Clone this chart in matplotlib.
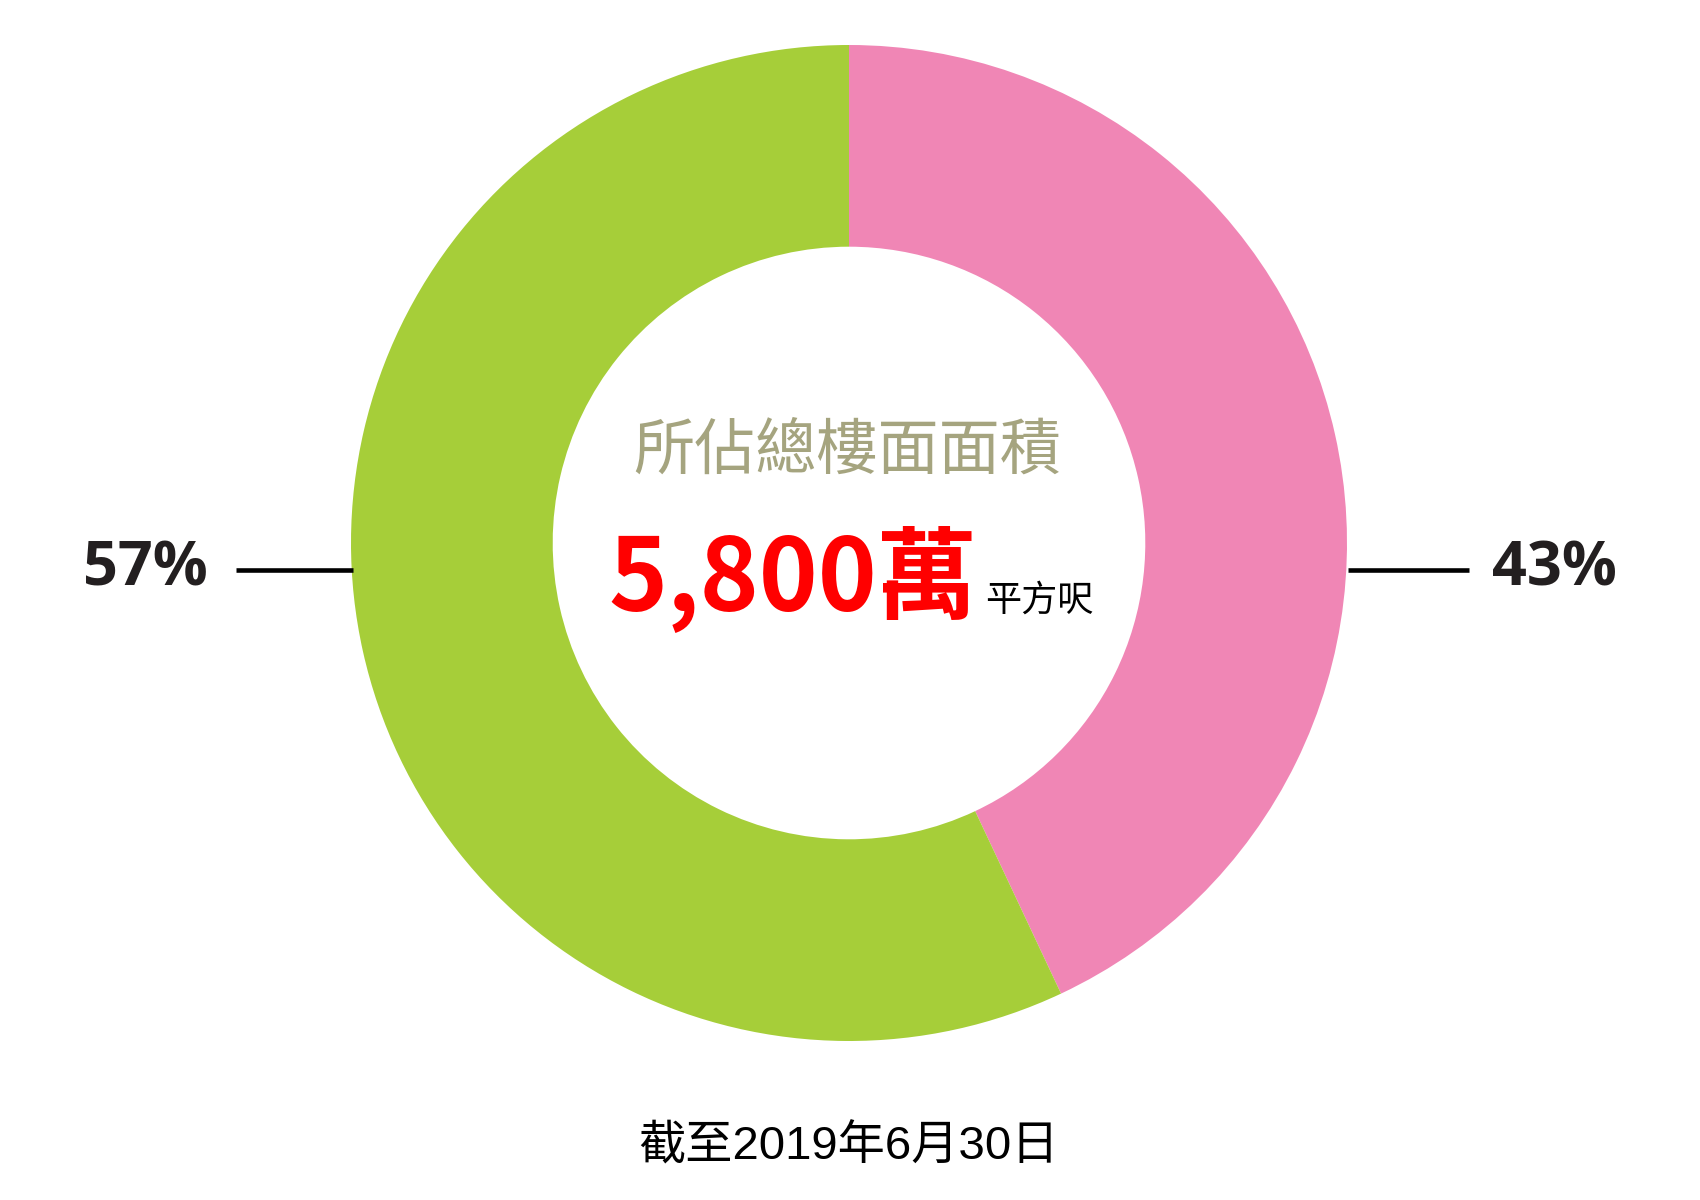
import matplotlib.pyplot as plt

# share of total floor area
labels = ['43%', '57%']
shares = [43, 57]
colors = ['#F086B5', '#A6CE39']

title = '所佔總樓面面積'
total = '5,800萬'
unit = '平方呎'
note = '截至2019年6月30日'

cjk = ['Noto Sans CJK TC', 'DejaVu Sans']

fig = plt.figure(figsize=(17, 12), dpi=100)
ax = fig.add_axes([0, 0, 1, 1])

cx, cy, r = 849, 657, 498
ax.pie(shares, colors=colors, startangle=90, counterclock=False,
       center=(cx, cy), radius=r, frame=True,
       wedgeprops=dict(width=r * 0.405, linewidth=0))
ax.set_xlim(0, 1700)
ax.set_ylim(0, 1200)
ax.axis('off')

# leader lines and percentage labels
ly = 630
ax.plot([1348, 1469], [ly, ly], color='black', lw=3.3, solid_capstyle='butt')
ax.plot([236, cx - r + 2], [ly, ly], color='black', lw=3.3, solid_capstyle='butt')
ax.text(1492, ly, labels[0], ha='left', va='center', fontsize=44,
        fontweight='bold', family=['Open Sans', 'DejaVu Sans'], color='#231F20')
ax.text(208, ly, labels[1], ha='right', va='center', fontsize=44,
        fontweight='bold', family=['Open Sans', 'DejaVu Sans'], color='#231F20')

# centre text
ax.text(847, 749, title, ha='center', va='center', fontsize=44,
        family=cjk, color='#A5A47F')
ax.text(977, 589, total, ha='right', va='baseline', fontsize=72,
        fontweight='bold', family=cjk, color='#FF0000')
ax.text(985, 589, unit, ha='left', va='baseline', fontsize=26,
        family=cjk, color='black')

ax.text(848, 53, note, ha='center', va='center', fontsize=34,
        family=['Liberation Sans', 'Noto Sans CJK TC'], color='black')

fig.savefig('out.png', dpi=100)
